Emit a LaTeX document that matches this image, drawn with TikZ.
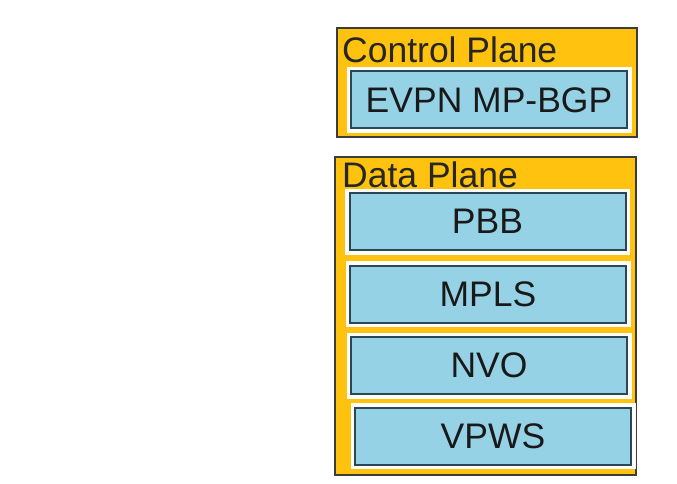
\documentclass[tikz,border=0pt]{standalone}
\usepackage{fontspec}
\setmainfont{Liberation Sans}
\definecolor{planeyellow}{RGB}{255,194,14}
\definecolor{layerblue}{RGB}{150,210,230}
\definecolor{edgegray}{RGB}{60,60,60}
\definecolor{layeredge}{RGB}{45,70,85}
\begin{document}
\begin{tikzpicture}[
    x=1pt,y=-1pt,
    plane/.style={rectangle,draw=edgegray,line width=2.5pt,fill=planeyellow,inner sep=0pt},
    layer/.style={rectangle,draw=layeredge,line width=2pt,fill=layerblue,inner sep=0pt,
      minimum width=276pt,minimum height=57pt,
      preaction={draw=white,line width=9pt},
      text=black!90,font=\fontsize{35.5}{40}\selectfont},
    title/.style={anchor=west,inner sep=0pt,text=black!85,font=\fontsize{35.5}{40}\selectfont}
    ]
    \useasboundingbox (0,0) rectangle (677,484);

    \node (cp) [plane,minimum width=300pt,minimum height=109pt] at (487,82.5) {};
    \node (cpt) [title] at (342,50) {Control Plane};
    \node (evpn) [layer] at (489,100) {EVPN MP-BGP};

    \node (dp) [plane,minimum width=301pt,minimum height=318pt] at (485.5,316) {};
    \node (dpt) [title] at (342,175) {Data Plane};

    \foreach \name/\x/\y in {PBB/487.5/221.5,MPLS/488/294,NVO/489/365.5,VPWS/493/436}
      \node (\name) [layer] at (\x,\y) {\name};

  \end{tikzpicture}
\end{document}
